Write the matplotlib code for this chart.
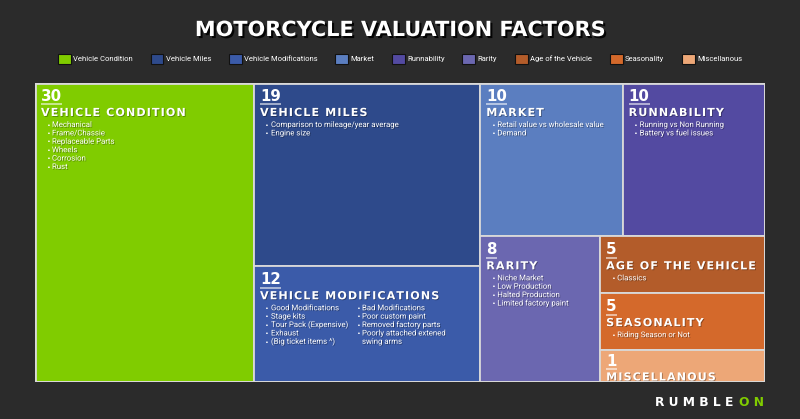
import matplotlib
matplotlib.use("Agg")
import matplotlib.pyplot as plt
import matplotlib.patheffects as pe
from matplotlib.patches import Rectangle, Patch

W, H, DPI = 800, 419, 100
BG = "#2b2b2b"
EDGE = "#d9d9d9"

factors = ["Vehicle Condition", "Vehicle Miles", "Vehicle Modifications", "Market",
           "Runnability", "Rarity", "Age of the Vehicle", "Seasonality", "Miscellanous"]
scores = [30, 19, 12, 10, 10, 8, 5, 5, 1]
colors = ["#80cc00", "#2e4a8b", "#3b5ba9", "#5b7ec0", "#534aa1",
          "#6b67b0", "#b35c2a", "#d4692b", "#eda777"]
bullets = [
    ["Mechanical", "Frame/Chassie", "Replaceable Parts", "Wheels", "Corrosion", "Rust"],
    ["Comparison to mileage/year average", "Engine size"],
    ["Good Modifications", "Stage kits", "Tour Pack (Expensive)", "Exhaust",
     "(Big ticket items ^)"],
    ["Retail value vs wholesale value", "Demand"],
    ["Running vs Non Running", "Battery vs fuel issues"],
    ["Niche Market", "Low Production", "Halted Production", "Limited factory paint"],
    ["Classics"],
    ["Riding Season or Not"],
    [],
]
# second bullet column (only vehicle modifications has one)
bullets_right = {2: ["Bad Modifications", "Poor custom paint", "Removed factory parts",
                     "Poorly attached extened\nswing arms"]}

# tiles are laid out in strips: each group is one column (or row) of the treemap
groups = [[0], [1, 2], [3, 4], [5], [6, 7, 8]]

# treemap area in pixels (left, top, width, height)
AREA = (35, 83, 730, 299)


def strip_layout(values, groups, w, h, min_share=0.22):
    rects = [None] * len(values)
    x, y = 0.0, 0.0
    remaining = float(sum(values))
    for g in groups:
        gsum = sum(values[i] for i in g)
        frac = gsum / remaining
        shares = [values[i] / gsum for i in g]
        # tiny tiles get a minimum share so their label still fits
        small = [s < min_share for s in shares]
        if len(g) > 1 and any(small):
            rest = sum(s for s, sm in zip(shares, small) if not sm)
            left = 1 - min_share * sum(small)
            shares = [min_share if sm else s / rest * left for s, sm in zip(shares, small)]
        if w >= h:
            cw = w * frac
            yy = y
            for i, s in zip(g, shares):
                rects[i] = (x, yy, cw, h * s)
                yy += h * s
            x += cw
            w -= cw
        else:
            rh = h * frac
            xx = x
            for i, s in zip(g, shares):
                rects[i] = (xx, y, w * s, rh)
                xx += w * s
            y += rh
            h -= rh
        remaining -= gsum
    return rects


def spaced(s, sp="\u200a"):
    return sp.join(s)


fig = plt.figure(figsize=(W / DPI, H / DPI), dpi=DPI, facecolor=BG)
ax = fig.add_axes([AREA[0] / W, 1 - (AREA[1] + AREA[3]) / H, AREA[2] / W, AREA[3] / H])
ax.set_xlim(0, AREA[2])
ax.set_ylim(AREA[3], 0)
ax.axis("off")

rects = strip_layout(scores, groups, AREA[2], AREA[3])
shadow = [pe.withSimplePatchShadow(offset=(0.6, -0.6), shadow_rgbFace="black", alpha=0.35)]
renderer = fig.canvas.get_renderer()

for i, (x0, y0, w, h) in enumerate(rects):
    rect = Rectangle((x0, y0), w, h, facecolor=colors[i], edgecolor=EDGE, lw=1.3, zorder=1)
    ax.add_patch(rect)

    # small tiles squeeze the header up a little
    title_y = y0 + min(33, h - 1.5)
    num_y = title_y - 15 if h < 40 else y0 + 18

    num = ax.text(x0 + 6, num_y, str(scores[i]), color="white", fontsize=10.8,
                  weight="bold", va="baseline", ha="left", clip_on=True, zorder=3)
    num.set_clip_path(rect)
    nw = num.get_window_extent(renderer).width
    line, = ax.plot([x0 + 6, x0 + 6 + nw], [num_y + 3.5, num_y + 3.5], color="white",
                    alpha=0.6, lw=1.3, solid_capstyle="butt", zorder=3)
    line.set_clip_path(rect)

    t = ax.text(x0 + 6, title_y, spaced(factors[i].upper()), color="white", fontsize=8,
                family="DejaVu Sans", weight="bold", va="baseline", ha="left",
                clip_on=True, zorder=3, path_effects=shadow)
    t.set_clip_path(rect)

    cols = [(0, bullets[i])]
    if i in bullets_right:
        cols.append((91, bullets_right[i]))
    for dx, items in cols:
        row = 0
        for item in items:
            for k, part in enumerate(item.split("\n")):
                yy = y0 + 44 + row * 8.4
                if k == 0:
                    ax.text(x0 + 11.5 + dx, yy - 0.3, "\u2022", color="white", fontsize=4.6,
                            family="DejaVu Sans", va="baseline", ha="left", zorder=3)
                ax.text(x0 + 17 + dx, yy, part, color="white", fontsize=5.6,
                        family="Roboto", va="baseline", ha="left", zorder=3,
                        path_effects=shadow)
                row += 1

# outer frame
ax.add_patch(Rectangle((0, 0), AREA[2], AREA[3], facecolor="none", edgecolor=EDGE,
                       lw=2, zorder=4))

fig.text(0.5, 1 - 36 / H, "MOTORCYCLE VALUATION FACTORS", color="white", fontsize=15,
         weight="bold", ha="center", va="baseline",
         path_effects=[pe.withSimplePatchShadow(offset=(1.5, -1.5),
                                                shadow_rgbFace="black", alpha=0.9)])

handles = [Patch(facecolor=c, edgecolor="#111111", lw=0.8) for c in colors]
fig.legend(handles, factors, loc="center", bbox_to_anchor=(0.5, 1 - 59 / H), ncol=9,
           frameon=False, prop={"family": "Roboto", "size": 5.5}, labelcolor="white",
           handlelength=1.7, handleheight=1.7, handletextpad=0.3, columnspacing=2.3)

fig.text(733 / W, 1 - 406 / H, "R U M B L E", color="white", fontsize=8.8,
         weight="bold", ha="right", va="baseline")
fig.text(764 / W, 1 - 406 / H, "O N", color="#80cc00", fontsize=8.8,
         weight="bold", ha="right", va="baseline")

fig.savefig("out.png", dpi=DPI, facecolor=BG)
